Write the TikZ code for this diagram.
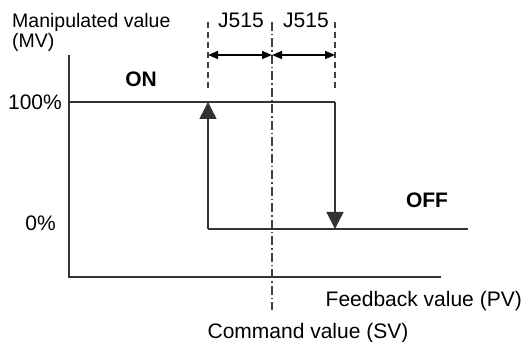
\documentclass[tikz,border=0pt]{standalone}
\usepackage{fontspec}
\setmainfont{Liberation Sans}
\usetikzlibrary{arrows.meta}
\begin{document}
\begin{tikzpicture}[x=1pt,y=-1pt,
  line/.style={draw=black!80,line width=1.4pt},
  guide/.style={draw=black!75,line width=1.1pt,dash pattern=on 6pt off 4pt},
  center/.style={draw=black!75,line width=1.1pt,dash pattern=on 9pt off 3pt on 1.5pt off 3pt},
  bigarrow/.style={line,-{Triangle[length=17pt,width=17pt]}},
  dimarrow/.style={draw=black,line width=1.4pt,{Triangle[length=10pt,width=8pt]}-{Triangle[length=10pt,width=8pt]}},
  lbl/.style={inner sep=0pt,font=\fontsize{21}{24}\selectfont},
  blbl/.style={lbl,font=\fontsize{21}{24}\selectfont\bfseries}]
\useasboundingbox (0,0) rectangle (523,342);
% coordinates
\coordinate (ytop) at (69,55);
\coordinate (o) at (69,277);
\coordinate (xend) at (441,277);
\coordinate (hl) at (69,102);
\coordinate (hr) at (335,102);
\coordinate (lo) at (335,229);
\coordinate (ll) at (208,229);
\coordinate (lr) at (468,229);
\coordinate (lu) at (208,102);
\coordinate (g1t) at (208,22);
\coordinate (g1b) at (208,88);
\coordinate (g2t) at (335,22);
\coordinate (g2b) at (335,88);
\coordinate (ct) at (272,22);
\coordinate (cb) at (272,310);
\coordinate (d1) at (208,55);
\coordinate (d2) at (272,55);
\coordinate (d3) at (335,55);
% axes
\draw[line] (ytop) -- (o) -- (xend);
% guides
\draw[guide] (g1t) -- (g1b);
\draw[guide] (g2t) -- (g2b);
\draw[center] (ct) -- (cb);
% dimension arrows
\draw[dimarrow] (d1) -- (d2);
\draw[dimarrow] (d2) -- (d3);
% characteristic
\draw[line] (hl) -- (hr);
\draw[bigarrow] (hr) -- (lo);
\draw[line] (ll) -- (lr);
\draw[bigarrow] (ll) -- (lu);
% labels
\node[lbl,anchor=base west,font=\fontsize{19.5}{20}\selectfont,align=left] (mv) at (12,48) {Manipulated value\\(MV)};
\node[lbl,anchor=base] (j1) at (241,28) {J515};
\node[lbl,anchor=base] (j2) at (306,28) {J515};
\node[blbl,anchor=base] (on) at (141,87) {ON};
\node[blbl,anchor=base] (off) at (427,208) {OFF};
\node[lbl,anchor=base east] (p100) at (62,110) {100\%};
\node[lbl,anchor=base east] (p0) at (56,231) {0\%};
\node[lbl,anchor=base east] (pv) at (522,307) {Feedback value (PV)};
\node[lbl,anchor=base] (sv) at (308,339) {Command value (SV)};
\end{tikzpicture}
\end{document}
